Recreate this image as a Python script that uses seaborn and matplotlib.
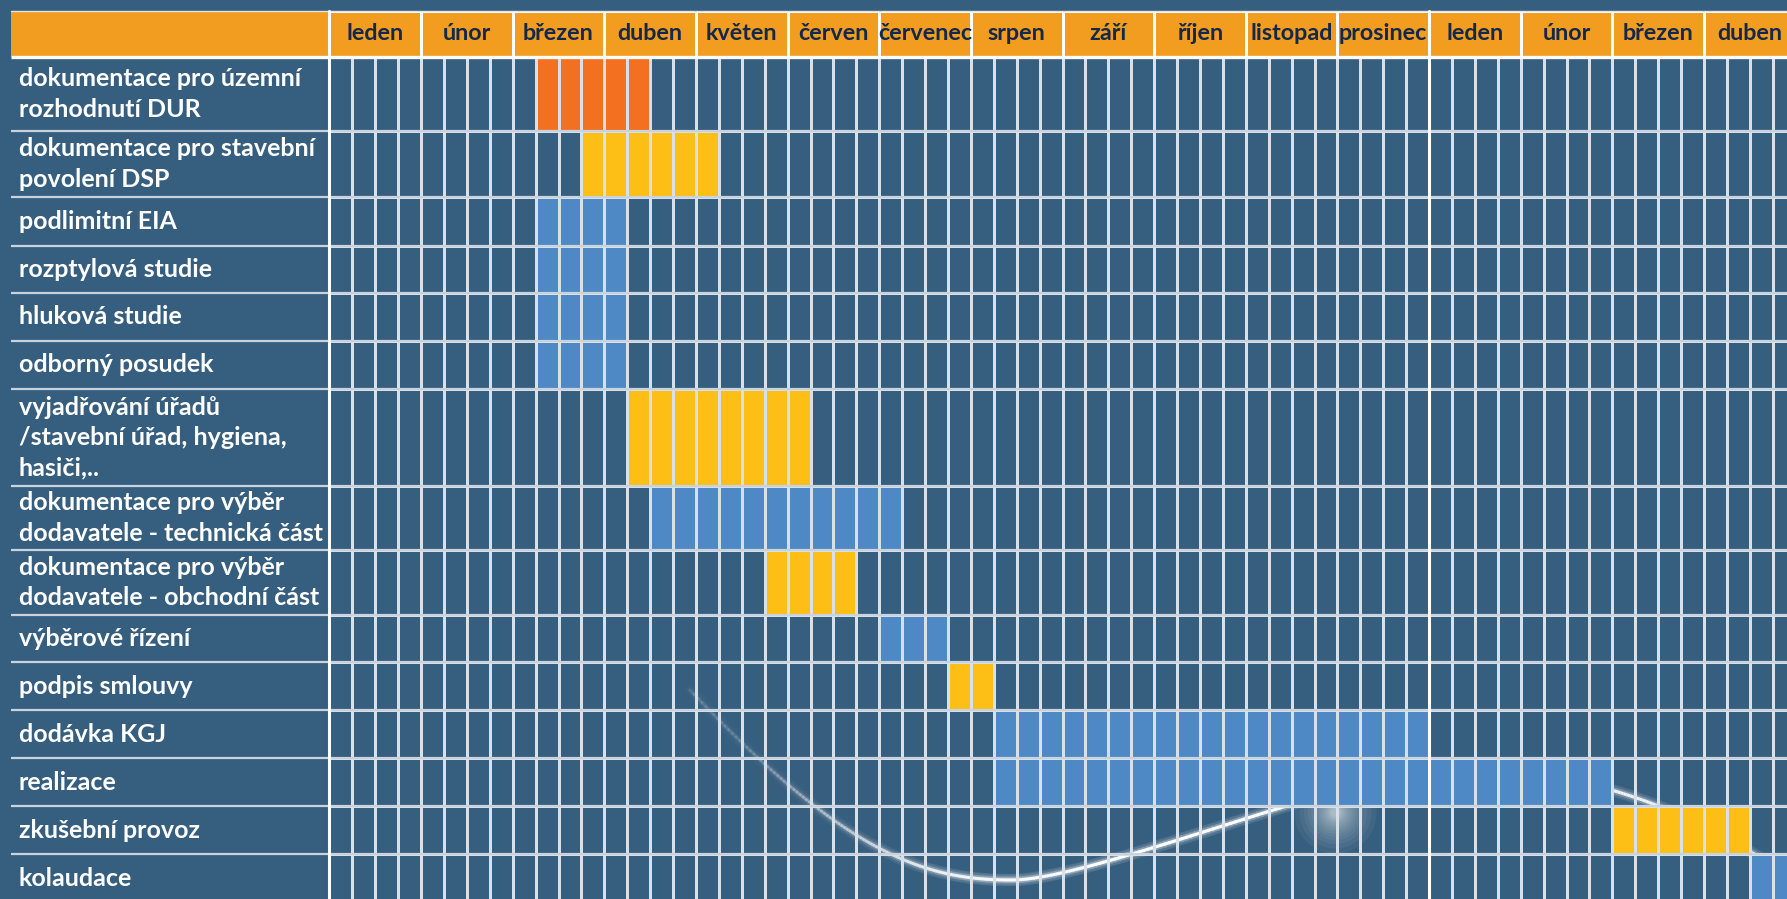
import numpy as np
import matplotlib.pyplot as plt
import seaborn as sns
from matplotlib.colors import ListedColormap
from matplotlib.patches import Rectangle
from matplotlib.collections import LineCollection

# data
tasks = [
    "dokumentace pro územní\nrozhodnutí DUR",
    "dokumentace pro stavební\npovolení DSP",
    "podlimitní EIA",
    "rozptylová studie",
    "hluková studie",
    "odborný posudek",
    "vyjadřování úřadů\n/stavební úřad, hygiena,\nhasiči,..",
    "dokumentace pro výběr\ndodavatele - technická část",
    "dokumentace pro výběr\ndodavatele - obchodní část",
    "výběrové řízení",
    "podpis smlouvy",
    "dodávka KGJ",
    "realizace",
    "zkušební provoz",
    "kolaudace",
]
start_week = [9, 11, 9, 9, 9, 9, 13, 14, 19, 24, 27, 29, 29, 56, 62]
n_weeks = [5, 6, 4, 4, 4, 4, 8, 11, 4, 3, 2, 19, 27, 6, 2]
kind = ["orange", "yellow", "blue", "blue", "blue", "blue", "yellow", "blue",
        "yellow", "blue", "yellow", "blue", "blue", "yellow", "blue"]
months = ["leden", "únor", "březen", "duben", "květen", "červen", "červenec",
          "srpen", "září", "říjen", "listopad", "prosinec",
          "leden", "únor", "březen", "duben"]

# styling
BG = "#365E7E"
BLUE = "#4E88C5"
YELLOW = "#FDBE16"
ORANGE = "#F37021"
HEADER = "#F29D1F"
NAVY = "#13284A"
VLINE = "#D8E0E9"
HLINE = "#C9D3DE"
codes = {"blue": 1, "yellow": 2, "orange": 3}
cmap = ListedColormap([(0, 0, 0, 0), BLUE, YELLOW, ORANGE])

W, H = 1787, 899
row_edges = [57, 131, 197, 246, 293, 341, 389, 486, 550, 615, 662, 710, 758, 806, 854, 902]
head_top, head_bot = 11, 57
left, grid_x0 = 11, 329.4
week_w = 22.91
total_weeks = 4 * len(months)
grid_x1 = grid_x0 + total_weeks * week_w

sns.set_theme(style="white")
plt.rcParams["font.family"] = ["Lato", "DejaVu Sans"]

fig = plt.figure(figsize=(W / 100, H / 100), dpi=100, facecolor=BG)


def px_axes(x0, y0, x1, y1, z=1):
    a = fig.add_axes([x0 / W, 1 - y1 / H, (x1 - x0) / W, (y1 - y0) / H], zorder=z)
    a.patch.set_alpha(0)
    return a


bg = px_axes(0, 0, W, H, z=0)
bg.set_xlim(0, W)
bg.set_ylim(H, 0)
bg.axis("off")
bg.add_patch(Rectangle((left, head_top), W, head_bot - head_top, color=HEADER, lw=0))

# decorative swoosh of the slide background (three cubic bezier pieces)
def bezier(p0, c1, c2, p1, n=120):
    t = np.linspace(0, 1, n)[:, None]
    p0, c1, c2, p1 = map(np.array, (p0, c1, c2, p1))
    return (1 - t) ** 3 * p0 + 3 * (1 - t) ** 2 * t * c1 + 3 * (1 - t) * t ** 2 * c2 + t ** 3 * p1

swoosh = np.vstack([
    bezier((690, 690), (850, 860), (930, 880), (1012, 880)),
    bezier((1012, 880), (1094, 880), (1360, 768), (1455, 768)),
    bezier((1455, 768), (1550, 768), (1680, 790), (1820, 900)),
])
segs = np.stack([swoosh[:-1], swoosh[1:]], axis=1)
alpha = np.clip((segs[:, 0, 0] - 690) / 420, 0.12, 1.0)
alpha[segs[:, 0, 0] > 1455] = 0.7
for lw, k in [(9, 0.06), (5, 0.15), (2.2, 0.95)]:
    rgba = np.zeros((len(segs), 4))
    rgba[:, :3] = 1
    rgba[:, 3] = alpha * k
    bg.add_collection(LineCollection(segs, colors=rgba, linewidths=lw, capstyle="round"))
# soft glow where the swoosh disappears behind the bars
for s in np.geomspace(3500, 40, 18):
    bg.scatter([1335], [812], s=s, color="white", alpha=0.05, lw=0)

# header with month names
hax = px_axes(grid_x0, head_top, grid_x1, head_bot, z=2)
sns.heatmap(np.zeros((1, len(months))), ax=hax, cmap=ListedColormap([HEADER]),
            cbar=False, annot=np.array([months]), fmt="",
            annot_kws=dict(color=NAVY, fontsize=16.8, fontweight="bold"),
            linewidths=2.0, linecolor="white", xticklabels=False, yticklabels=False)

# one heatmap strip per task
for i, task in enumerate(tasks):
    row = np.zeros((1, total_weeks))
    row[0, start_week[i]:start_week[i] + n_weeks[i]] = codes[kind[i]]
    ax = px_axes(grid_x0, row_edges[i], grid_x1, row_edges[i + 1], z=2)
    sns.heatmap(row, ax=ax, cmap=cmap, vmin=-0.5, vmax=3.5, cbar=False,
                linewidths=0.9, linecolor=VLINE, xticklabels=False, yticklabels=False)

# overlay: separators and labels
ov = px_axes(0, 0, W, H, z=5)
ov.set_xlim(0, W)
ov.set_ylim(H, 0)
ov.axis("off")
for k, y in enumerate(row_edges[:-1]):
    ov.plot([left, W], [y, y], color="white" if k == 0 else HLINE,
            lw=2.4 if k == 0 else 1.6, solid_capstyle="butt")
ov.plot([left, W], [head_top, head_top], color="#DDE6EE", lw=1.0)
ov.plot([grid_x0, grid_x0], [head_top, H], color="white", lw=2.2)
ov.plot([grid_x0 + 48 * week_w] * 2, [head_top, H], color="white", lw=2.2)

for i, task in enumerate(tasks):
    yc = (row_edges[i] + row_edges[i + 1]) / 2
    ov.text(19, yc, task, color="white", fontsize=18, fontweight="bold",
            va="center", ha="left", linespacing=1.38)

fig.savefig("out.png", dpi=100, facecolor=BG)
